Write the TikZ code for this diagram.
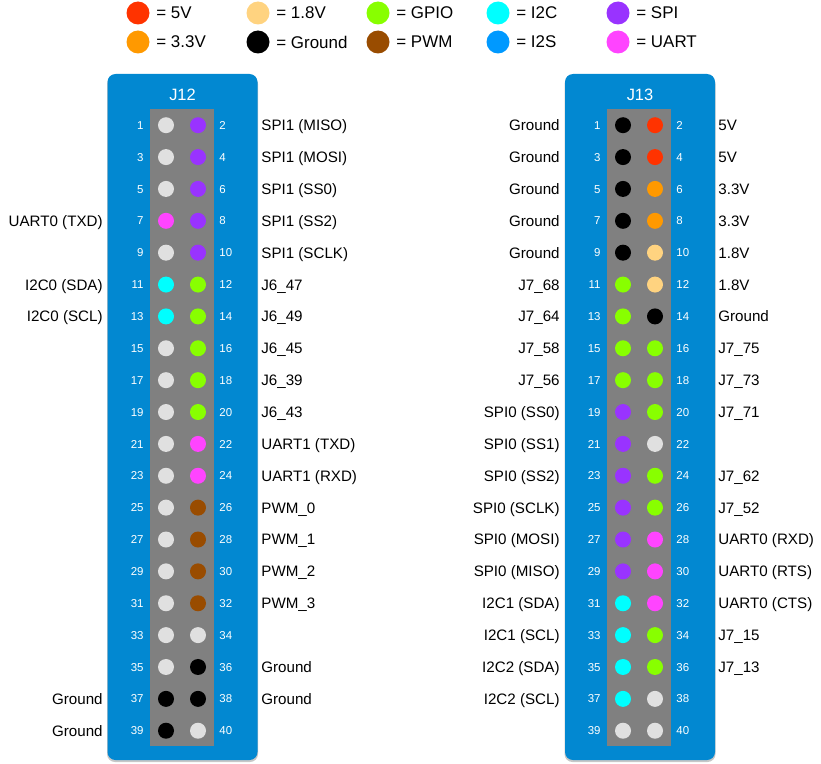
\documentclass[tikz,border=0pt]{standalone}
\usepackage{fontspec}
\setmainfont{Liberation Sans}
\usetikzlibrary{positioning}
\definecolor{board}{RGB}{2,136,209}
\definecolor{strip}{RGB}{128,128,128}
\definecolor{pinnc}{RGB}{224,224,224}
\definecolor{pinfive}{RGB}{255,51,0}
\definecolor{pinthree}{RGB}{255,153,0}
\definecolor{pinone}{RGB}{255,211,128}
\definecolor{pingnd}{RGB}{0,0,0}
\definecolor{pingpio}{RGB}{136,255,0}
\definecolor{pinpwm}{RGB}{153,76,0}
\definecolor{pini2c}{RGB}{0,255,255}
\definecolor{pini2s}{RGB}{0,153,255}
\definecolor{pinspi}{RGB}{153,51,255}
\definecolor{pinuart}{RGB}{255,68,255}

\tikzset{
  pindot/.style={circle, minimum size=16bp, inner sep=0pt},
  legdot/.style={circle, minimum size=23bp, inner sep=0pt},
  legtext/.style={inner sep=0pt, font=\fontsize{17}{20}\selectfont},
  pinnum/.style={inner sep=0pt, text=white, text height=8.2bp, text depth=0pt, font=\fontsize{11.5}{13}\selectfont},
  pinname/.style={inner sep=0pt, text height=10.9bp, text depth=0pt, font=\fontsize{15.2}{18}\selectfont},
  boardtitle/.style={inner sep=0pt, text=white, font=\fontsize{16.5}{19}\selectfont},
}

\begin{document}
\begin{tikzpicture}[x=1bp,y=-1bp]
\useasboundingbox (0,0) rectangle (821,764);
% Legend
\foreach \c/\t/\x/\y in {pinfive/5V/138/13, pinthree/3.3V/138/42,
    pinone/1.8V/258/13, pingnd/Ground/258/42,
    pingpio/GPIO/378/13, pinpwm/PWM/378/42,
    pini2c/I2C/498/13, pini2s/I2S/498/42,
    pinspi/SPI/618/13, pinuart/UART/618/42} {
    \node[legdot, fill=\c] (key-\c) at (\x,\y) {};
    \node[legtext, right=6.5bp of key-\c] (keytext-\c) {= \t};
}

% J12 header
\fill[black!22, rounded corners=8bp] (107,76) rectangle (258,762);
\fill[board, rounded corners=8bp] (107.5,74) rectangle (257.5,760);
\fill[strip] (150,109) rectangle (214,746);
\node[boardtitle] (title12) at (182.5,94.5) {J12};
\foreach \cl/\cr/\ll/\lr [count=\i] in {
    pinnc/pinspi//SPI1 (MISO), pinnc/pinspi//SPI1 (MOSI),
    pinnc/pinspi//SPI1 (SS0), pinuart/pinspi/UART0 (TXD)/SPI1 (SS2),
    pinnc/pinspi//SPI1 (SCLK), pini2c/pingpio/I2C0 (SDA)/J6\_47,
    pini2c/pingpio/I2C0 (SCL)/J6\_49, pinnc/pingpio//J6\_45,
    pinnc/pingpio//J6\_39, pinnc/pingpio//J6\_43,
    pinnc/pinuart//UART1 (TXD), pinnc/pinuart//UART1 (RXD),
    pinnc/pinpwm//PWM\_0, pinnc/pinpwm//PWM\_1,
    pinnc/pinpwm//PWM\_2, pinnc/pinpwm//PWM\_3,
    pinnc/pinnc//, pinnc/pingnd//Ground,
    pingnd/pingnd/Ground/Ground, pingnd/pinnc/Ground/} {
    \pgfmathsetmacro\y{125.2+(\i-1)*31.87}
    \pgfmathtruncatemacro\no{2*\i-1}
    \pgfmathtruncatemacro\ne{2*\i}
    \node[pindot, fill=\cl] (ja\no) at (166,\y) {};
    \node[pindot, fill=\cr] (ja\ne) at (198,\y) {};
    \node[pinnum, left=14bp of ja\no] (janum\no) {\no};
    \node[pinnum, right=13bp of ja\ne] (janum\ne) {\ne};
    \ifx\ll\empty\else \node[pinname, left=55bp of ja\no] (janame\no) {\ll}; \fi
    \ifx\lr\empty\else \node[pinname, right=55bp of ja\ne] (janame\ne) {\lr}; \fi
}

% J13 header
\fill[black!22, rounded corners=8bp] (564.5,76) rectangle (715.5,762);
\fill[board, rounded corners=8bp] (565,74) rectangle (715,760);
\fill[strip] (607,109) rectangle (671,746);
\node[boardtitle] (title13) at (640,94.5) {J13};
\foreach \cl/\cr/\ll/\lr [count=\i] in {
    pingnd/pinfive/Ground/5V, pingnd/pinfive/Ground/5V,
    pingnd/pinthree/Ground/3.3V, pingnd/pinthree/Ground/3.3V,
    pingnd/pinone/Ground/1.8V, pingpio/pinone/J7\_68/1.8V,
    pingpio/pingnd/J7\_64/Ground, pingpio/pingpio/J7\_58/J7\_75,
    pingpio/pingpio/J7\_56/J7\_73, pinspi/pingpio/SPI0 (SS0)/J7\_71,
    pinspi/pinnc/SPI0 (SS1)/, pinspi/pingpio/SPI0 (SS2)/J7\_62,
    pinspi/pingpio/SPI0 (SCLK)/J7\_52, pinspi/pinuart/SPI0 (MOSI)/UART0 (RXD),
    pinspi/pinuart/SPI0 (MISO)/UART0 (RTS), pini2c/pinuart/I2C1 (SDA)/UART0 (CTS),
    pini2c/pingpio/I2C1 (SCL)/J7\_15, pini2c/pingpio/I2C2 (SDA)/J7\_13,
    pini2c/pinnc/I2C2 (SCL)/, pinnc/pinnc//} {
    \pgfmathsetmacro\y{125.2+(\i-1)*31.87}
    \pgfmathtruncatemacro\no{2*\i-1}
    \pgfmathtruncatemacro\ne{2*\i}
    \node[pindot, fill=\cl] (jb\no) at (623,\y) {};
    \node[pindot, fill=\cr] (jb\ne) at (655,\y) {};
    \node[pinnum, left=14bp of jb\no] (jbnum\no) {\no};
    \node[pinnum, right=13bp of jb\ne] (jbnum\ne) {\ne};
    \ifx\ll\empty\else \node[pinname, left=55bp of jb\no] (jbname\no) {\ll}; \fi
    \ifx\lr\empty\else \node[pinname, right=55bp of jb\ne] (jbname\ne) {\lr}; \fi
}
\end{tikzpicture}
\end{document}
